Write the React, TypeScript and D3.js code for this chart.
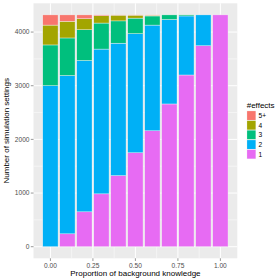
import React, { useRef, useEffect } from "react";
import * as d3 from "d3";

// proportion of background knowledge
const proportions = [0, 0.1, 0.2, 0.3, 0.4, 0.5, 0.6, 0.7, 0.8, 0.9, 1.0];
// number of settings per #effects level
const effects1 = [0, 240, 650, 985, 1325, 1750, 2160, 2660, 3200, 3745, 4320];
const effects2 = [3000, 2950, 2820, 2698, 2468, 2220, 1970, 1575, 1100, 575, 0];
const effects3 = [760, 700, 573, 485, 415, 290, 170, 85, 20, 0, 0];
const effects4 = [370, 310, 205, 136, 107, 55, 15, 0, 0, 0, 0];
const effects5 = [190, 120, 72, 16, 5, 5, 5, 0, 0, 0, 0];

const levels = ["1", "2", "3", "4", "5+"];
const legendOrder = ["5+", "4", "3", "2", "1"];
const levelColors = ["#E76BF3", "#00B0F6", "#00BF7D", "#A3A500", "#F8766D"];
const xTicks = [0, 0.25, 0.5, 0.75, 1.0];
const yTicks = [0, 1000, 2000, 3000, 4000];

const App = () => {
  const svgRef = useRef<SVGSVGElement>(null);

  useEffect(() => {
    if (!svgRef.current) return;
    const svg = d3.select(svgRef.current);
    svg.selectAll("*").remove();

    const width = 280;
    const height = 280;
    const panel = { left: 33.5, right: 237.3, top: 3.3, bottom: 258.3 };

    const rows = proportions.map((p, i) => ({
      p,
      "1": effects1[i],
      "2": effects2[i],
      "3": effects3[i],
      "4": effects4[i],
      "5+": effects5[i],
    }));
    const stack = d3.stack<any>().keys(levels);
    const series = stack(rows);
    const maxTotal = d3.max(rows, (r) => levels.reduce((s, k) => s + r[k], 0)) as number;

    const barW = 0.09;
    const xLo = -barW / 2, xHi = 1 + barW / 2;
    const xPad = (xHi - xLo) * 0.05;
    const x = d3.scaleLinear().domain([xLo - xPad, xHi + xPad]).range([panel.left, panel.right]);
    const yPad = maxTotal * 0.05;
    const y = d3.scaleLinear().domain([-yPad, maxTotal + yPad]).range([panel.bottom, panel.top]);

    const color = d3.scaleOrdinal<string>().domain(levels).range(levelColors);

    svg.attr("width", width).attr("height", height);

    // panel background
    svg.append("rect")
      .attr("x", panel.left).attr("y", panel.top)
      .attr("width", panel.right - panel.left).attr("height", panel.bottom - panel.top)
      .attr("fill", "#EBEBEB");

    // minor grid
    const g = svg.append("g");
    [500, 1500, 2500, 3500].forEach((v) => {
      g.append("line").attr("x1", panel.left).attr("x2", panel.right)
        .attr("y1", y(v)).attr("y2", y(v)).attr("stroke", "#fff").attr("stroke-width", 0.5);
    });
    [0.125, 0.375, 0.625, 0.875].forEach((v) => {
      g.append("line").attr("y1", panel.top).attr("y2", panel.bottom)
        .attr("x1", x(v)).attr("x2", x(v)).attr("stroke", "#fff").attr("stroke-width", 0.5);
    });
    // major grid
    yTicks.forEach((v) => {
      g.append("line").attr("x1", panel.left).attr("x2", panel.right)
        .attr("y1", y(v)).attr("y2", y(v)).attr("stroke", "#fff").attr("stroke-width", 1);
    });
    xTicks.forEach((v) => {
      g.append("line").attr("y1", panel.top).attr("y2", panel.bottom)
        .attr("x1", x(v)).attr("x2", x(v)).attr("stroke", "#fff").attr("stroke-width", 1);
    });

    // bars
    svg.append("g")
      .selectAll("g")
      .data(series)
      .enter()
      .append("g")
      .attr("fill", (d) => color(d.key))
      .selectAll("rect")
      .data((d) => d.filter((s) => s[1] - s[0] > 0))
      .enter()
      .append("rect")
      .attr("x", (d) => x(d.data.p - barW / 2))
      .attr("width", (d) => x(d.data.p + barW / 2) - x(d.data.p - barW / 2))
      .attr("y", (d) => y(d[1]))
      .attr("height", (d) => y(d[0]) - y(d[1]))
      .attr("stroke", "#F4F4F4")
      .attr("stroke-width", 0.4);

    // axes ticks and labels
    const axisG = svg.append("g").style("font-family", "Liberation Sans, Arial, sans-serif");
    yTicks.forEach((v) => {
      axisG.append("line").attr("x1", panel.left - 2.7).attr("x2", panel.left)
        .attr("y1", y(v)).attr("y2", y(v)).attr("stroke", "#333").attr("stroke-width", 0.5);
      axisG.append("text").attr("x", panel.left - 4).attr("y", y(v)).attr("dy", "0.35em")
        .attr("text-anchor", "end").attr("font-size", 6.6).attr("fill", "#4D4D4D")
        .text(String(v));
    });
    xTicks.forEach((v) => {
      axisG.append("line").attr("y1", panel.bottom).attr("y2", panel.bottom + 2.7)
        .attr("x1", x(v)).attr("x2", x(v)).attr("stroke", "#333").attr("stroke-width", 0.5);
      axisG.append("text").attr("x", x(v)).attr("y", panel.bottom + 9.2)
        .attr("text-anchor", "middle").attr("font-size", 6.6).attr("fill", "#4D4D4D")
        .text(d3.format(".2f")(v));
    });

    axisG.append("text")
      .attr("x", (panel.left + panel.right) / 2).attr("y", 276)
      .attr("text-anchor", "middle").attr("font-size", 8).attr("fill", "#000")
      .text("Proportion of background knowledge");
    axisG.append("text")
      .attr("transform", `translate(8.5, ${(panel.top + panel.bottom) / 2}) rotate(-90)`)
      .attr("text-anchor", "middle").attr("font-size", 8).attr("fill", "#000")
      .text("Number of simulation settings");

    // legend
    const leg = svg.append("g").style("font-family", "Liberation Sans, Arial, sans-serif");
    const keyX = 246.7, keyTop = 110.7, keyH = 9.67, keyW = 9.3;
    leg.append("text").attr("x", keyX).attr("y", 107.5)
      .attr("font-size", 8).attr("fill", "#000").text("#effects");
    legendOrder.forEach((k, i) => {
      leg.append("rect").attr("x", keyX).attr("y", keyTop + i * keyH)
        .attr("width", keyW).attr("height", keyH).attr("fill", "#F2F2F2");
      leg.append("rect").attr("x", keyX + 0.4).attr("y", keyTop + i * keyH + 0.4)
        .attr("width", keyW - 0.8).attr("height", keyH - 0.8).attr("fill", color(k));
      leg.append("text").attr("x", keyX + keyW + 2.5).attr("y", keyTop + i * keyH + keyH / 2)
        .attr("dy", "0.35em").attr("font-size", 6.6).attr("fill", "#000").text(k);
    });
  }, []);

  return (
    <svg
      ref={svgRef}
      style={{ position: "absolute", left: 0, top: 0, display: "block", background: "#fff" }}
    ></svg>
  );
};

export default App;
